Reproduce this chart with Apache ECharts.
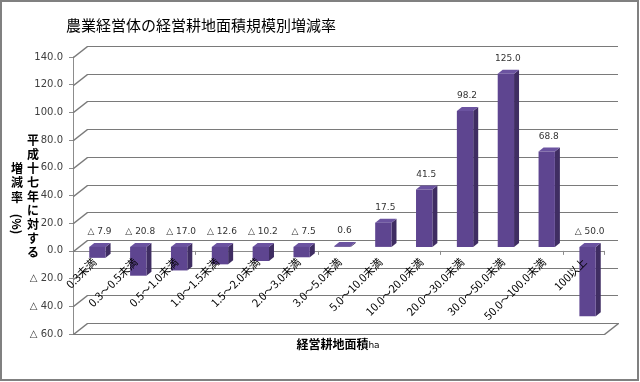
<!DOCTYPE html>
<html>
<head>
<meta charset="utf-8">
<script src="https://cdn.jsdelivr.net/npm/echarts@6/dist/echarts.min.js"></script>
<style>
  html, body { margin: 0; padding: 0; background: #fff; }
  #chart { width: 640px; height: 382px; }
</style>
</head>
<body>
<div id="chart"></div>
<script>
const titleText = '農業経営体の経営耕地面積規模別増減率';
const categories = ['0.3未満', '0.3～0.5未満', '0.5～1.0未満', '1.0～1.5未満', '1.5～2.0未満', '2.0～3.0未満', '3.0～5.0未満', '5.0～10.0未満', '10.0～20.0未満', '20.0～30.0未満', '30.0～50.0未満', '50.0～100.0未満', '100以上'];
const values = [-7.9, -20.8, -17.0, -12.6, -10.2, -7.5, 0.6, 17.5, 41.5, 98.2, 125.0, 68.8, -50.0];
const yTicks = [-60, -40, -20, 0, 20, 40, 60, 80, 100, 120, 140];
const yMin = -60, yMax = 140, yStep = 20;

const JP = '"Noto Sans CJK JP", "Noto Sans", sans-serif';
const NUM = '"DejaVu Sans", sans-serif';

const WALL_DX = 14, WALL_DY = -11;
const BAR_SHIFT_X = 4, BAR_SHIFT_Y = -4;
const BAR_DX = 5, BAR_DY = -4;

const G = { left: 73, top: 57, width: 531, height: 277 };
const GRID_LINE = '#7a7a7a';

function fmt(v) {
  return v < 0 ? '△ ' + Math.abs(v).toFixed(1) : v.toFixed(1);
}

function hLine(x1, x2, y) {
  return { type: 'rect', shape: { x: x1, y: y, width: x2 - x1, height: 1 }, style: { fill: GRID_LINE } };
}
function dLine(x, y, dx, dy) {
  return {
    type: 'polygon',
    shape: { points: [[x, y], [x + dx, y + dy], [x + dx + 1, y + dy], [x + dx + 1, y + dy + 1], [x + 1, y + 1], [x, y + 1]] },
    style: { fill: GRID_LINE }
  };
}

function frameElements(api) {
  const band = api.size([1, 0])[0];
  const out = [];
  for (let k = 0; k < yTicks.length; k++) {
    const v = yTicks[k];
    const pL = api.coord([0, v]);
    const pR = api.coord([categories.length - 1, v]);
    const x0 = Math.round(pL[0] - band / 2);
    const xr = Math.round(pR[0] + band / 2);
    const y = Math.round(pL[1]);
    out.push(dLine(x0, y, WALL_DX, WALL_DY));
    out.push(hLine(x0 + WALL_DX, xr + WALL_DX, y + WALL_DY));
    if (v === yMin) {
      out.push(hLine(x0, xr, y));
      out.push(dLine(xr, y, WALL_DX, WALL_DY));
    }
  }
  return out;
}

const chart = echarts.init(document.getElementById('chart'), null, { renderer: 'canvas' });

const option = {
  backgroundColor: '#fff',
  animation: false,
  title: {
    text: titleText,
    left: 61, top: 13,
    textStyle: { fontFamily: JP, fontSize: 15, fontWeight: 'normal', color: '#000' }
  },
  grid: [
    { left: G.left, top: G.top, width: G.width, height: G.height, outerBoundsMode: 'none', containLabel: false }
  ],
  xAxis: [
    {
      type: 'category', gridIndex: 0, data: categories,
      axisLine: { onZero: true, lineStyle: { color: '#8c8c8c', width: 1 } },
      axisTick: { show: true, length: 4, lineStyle: { color: '#8c8c8c' } },
      axisLabel: { show: false }
    }
  ],
  yAxis: [
    {
      type: 'value', gridIndex: 0, min: yMin, max: yMax, interval: yStep,
      axisLine: { show: true, lineStyle: { color: '#8c8c8c' } },
      axisTick: { show: true, length: 4, lineStyle: { color: '#8c8c8c' } },
      splitLine: { show: false },
      axisLabel: { formatter: fmt, fontSize: 10, color: '#404040', fontFamily: NUM, margin: 10 }
    }
  ],
  series: [
    {
      type: 'custom', xAxisIndex: 0, yAxisIndex: 0, z: 3, silent: true, clip: false,
      data: values.map((v, i) => [i, v]),
      renderItem: function (params, api) {
        const i = api.value(0), v = api.value(1);
        const c0 = api.coord([i, 0]);
        const c1 = api.coord([i, v]);
        const band = api.size([1, 0])[0];
        const bw = band * 0.4;
        const x = c0[0] + BAR_SHIFT_X - bw / 2;
        const yTop = Math.min(c0[1], c1[1]) + BAR_SHIFT_Y;
        const yBot = Math.max(c0[1], c1[1]) + BAR_SHIFT_Y;
        const children = params.dataIndex === 0 ? frameElements(api) : [];
        children.push(
          {
            type: 'polygon',
            shape: { points: [[x + bw, yTop], [x + bw + BAR_DX, yTop + BAR_DY], [x + bw + BAR_DX, yBot + BAR_DY], [x + bw, yBot]] },
            style: { fill: '#3f2d62' }
          },
          {
            type: 'polygon',
            shape: { points: [[x, yTop], [x + BAR_DX, yTop + BAR_DY], [x + bw + BAR_DX, yTop + BAR_DY], [x + bw, yTop]] },
            style: { fill: '#6b53a0' }
          },
          {
            type: 'rect',
            shape: { x: x, y: yTop, width: bw, height: Math.max(yBot - yTop, 0.01) },
            style: { fill: '#5e4590' }
          },
          {
            type: 'text',
            x: x + bw / 2 + 2, y: Math.min(c0[1], c1[1]) - 19,
            style: {
              text: fmt(v), fill: '#333', fontSize: 9, fontFamily: NUM,
              align: 'center', verticalAlign: 'middle'
            }
          },
          {
            type: 'text',
            x: c0[0] + 1, y: c0[1] + 9,
            rotation: Math.PI / 4,
            style: {
              text: categories[i], fill: '#000', fontSize: 11, fontFamily: JP,
              align: 'right', verticalAlign: 'middle'
            }
          }
        );
        return { type: 'group', children: children };
      }
    }
  ],
  graphic: [
    {
      type: 'rect', silent: true,
      shape: { x: 1, y: 1, width: 637, height: 379 },
      style: { fill: 'none', stroke: '#808080', lineWidth: 2 }
    },
    {
      type: 'text', x: 17, y: 161,
      style: { text: '増\n減\n率', fontFamily: JP, fontSize: 12, fontWeight: 'bold', lineHeight: 14.5, fill: '#000', align: 'center', verticalAlign: 'top' }
    },
    {
      type: 'text', x: 17, y: 224, rotation: -Math.PI / 2,
      style: { text: '(%)', fontFamily: JP, fontSize: 12, fontWeight: 'bold', fill: '#000', align: 'center', verticalAlign: 'middle' }
    },
    {
      type: 'text', x: 33, y: 133,
      style: { text: '平\n成\n十\n七\n年\nに\n対\nす\nる', fontFamily: JP, fontSize: 12, fontWeight: 'bold', lineHeight: 14, fill: '#000', align: 'center', verticalAlign: 'top' }
    },
    {
      type: 'text', x: 338, y: 344,
      style: {
        text: '{a|経営耕地面積}{b|ha}',
        align: 'center', verticalAlign: 'middle',
        rich: {
          a: { fontFamily: JP, fontSize: 12, fontWeight: 'bold', fill: '#000', lineHeight: 16 },
          b: { fontFamily: NUM, fontSize: 9, fill: '#000', lineHeight: 16, padding: [4, 0, 0, 0] }
        }
      }
    }
  ]
};

chart.setOption(option);
</script>
</body>
</html>
